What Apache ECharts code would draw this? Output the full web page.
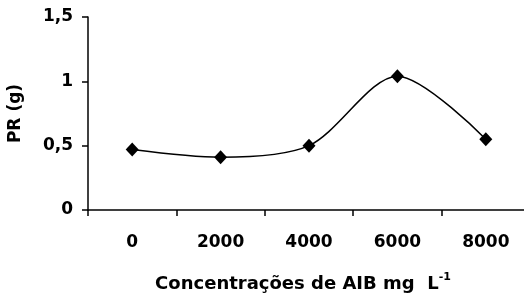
<!DOCTYPE html>
<html>
<head>
<meta charset="utf-8">
<script src="https://cdn.jsdelivr.net/npm/echarts@6/dist/echarts.min.js"></script>
<style>
html,body{margin:0;padding:0;background:#fff;}
#chart{width:524px;height:296px;}
</style>
</head>
<body>
<div id="chart"></div>
<script>
// 数据
var categories = ['0', '2000', '4000', '6000', '8000'];
var prValues = [0.47, 0.41, 0.50, 1.04, 0.55];
var yTicks = [0, 0.5, 1, 1.5];

(function(){
    var myChart = echarts.init(document.getElementById('chart'));
    var font = 'DejaVu Sans, sans-serif';
    var option = {
        animation: false,
        grid: {
            left: 88,
            top: 17,
            right: -6,
            bottom: 86,
            containLabel: false,
            outerBoundsMode: 'none'
        },
        xAxis: {
            type: 'category',
            data: categories,
            boundaryGap: true,
            axisLine: { lineStyle: { color: '#000', width: 1.5 } },
            axisTick: { show: true, length: 6, lineStyle: { color: '#000', width: 1.5 } },
            axisLabel: {
                color: '#000', fontSize: 17, fontWeight: 'bold', fontFamily: font, margin: 24
            },
            name: '{t|Concentrações de AIB mg  L}{s|-1}',
            nameLocation: 'middle',
            nameGap: 62,
            nameTextStyle: {
                padding: [0, 12, 0, 0],
                rich: {
                    t: { color: '#000', fontSize: 18, fontWeight: 'bold', fontFamily: font },
                    s: { color: '#000', fontSize: 11, fontWeight: 'bold', fontFamily: font, padding: [0, 0, 13, 0] }
                }
            }
        },
        yAxis: {
            type: 'value',
            min: yTicks[0],
            max: yTicks[yTicks.length - 1],
            interval: 0.5,
            splitLine: { show: false },
            axisLine: { show: true, lineStyle: { color: '#000', width: 1.5 } },
            axisTick: { show: true, length: 6, lineStyle: { color: '#000', width: 1.5 } },
            axisLabel: {
                color: '#000', fontSize: 17, fontWeight: 'bold', fontFamily: font, margin: 15,
                formatter: function (v) { return String(v).replace('.', ','); }
            },
            name: 'PR (g)',
            nameLocation: 'middle',
            nameGap: 64,
            nameRotate: 90,
            nameTextStyle: { color: '#000', fontSize: 17, fontWeight: 'bold', fontFamily: font }
        },
        series: [{
            type: 'line',
            data: prValues,
            smooth: 0.3,
            symbol: 'diamond',
            symbolSize: [13, 14],
            itemStyle: { color: '#000' },
            lineStyle: { color: '#000', width: 1.5 }
        }]
    };
    myChart.setOption(option);
})();
</script>
</body>
</html>
